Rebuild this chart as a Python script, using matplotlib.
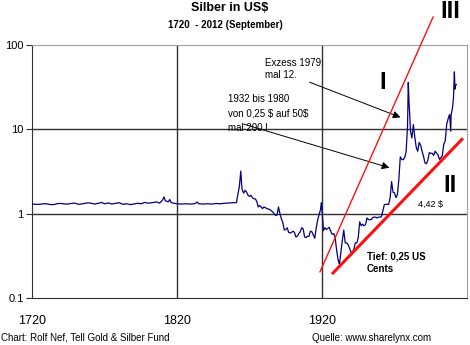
import matplotlib
matplotlib.use("Agg")
import matplotlib.pyplot as plt
import numpy as np

plt.rcParams['font.family'] = ['Liberation Sans', 'DejaVu Sans']
plt.rcParams['text.parse_math'] = False

# ---- data (silver price in US$) ----
years = [1720, 1723, 1725, 1728, 1730, 1733, 1735, 1738, 1740, 1743, 1745, 1748, 1750, 1752, 1755,
         1758, 1760, 1763, 1765, 1768, 1770, 1773, 1775, 1778, 1780, 1783, 1785, 1788, 1790, 1793,
         1795, 1798, 1800, 1803, 1806, 1808, 1810, 1811, 1812, 1814, 1815, 1816, 1818, 1820, 1823,
         1826, 1829, 1832, 1834, 1835, 1838, 1841, 1844, 1847, 1850, 1853, 1856, 1859, 1861, 1862,
         1863, 1864, 1864.5, 1865, 1866, 1867, 1868, 1869, 1870, 1871, 1872, 1873, 1874, 1875, 1876,
         1877, 1878, 1879, 1880, 1882, 1884, 1886, 1887, 1888, 1889, 1890, 1891, 1892, 1893, 1894,
         1895, 1896, 1897, 1898, 1899, 1900, 1901, 1902, 1903, 1904, 1905, 1906, 1907, 1908, 1909,
         1910, 1911, 1912, 1913, 1914, 1915, 1916, 1917, 1918, 1919, 1919.5, 1920, 1921, 1922, 1923,
         1924, 1925, 1926, 1927, 1928, 1929, 1930, 1931, 1932, 1933, 1934, 1935, 1936, 1937, 1938,
         1939, 1940, 1941, 1942, 1943, 1944, 1945, 1946, 1947, 1948, 1949, 1950, 1951, 1952, 1953,
         1954, 1955, 1956, 1957, 1958, 1959, 1960, 1961, 1962, 1963, 1964, 1965, 1966, 1967, 1968,
         1969, 1970, 1971, 1972, 1973, 1974, 1975, 1976, 1977, 1978, 1979, 1979.5, 1980, 1980.5, 1981,
         1982, 1983, 1984, 1985, 1986, 1987, 1988, 1989, 1990, 1991, 1992, 1993, 1994, 1995, 1996,
         1997, 1998, 1999, 2000, 2001, 2002, 2003, 2004, 2005, 2006, 2007, 2008, 2008.8, 2009, 2010,
         2010.7, 2011, 2011.3, 2011.7, 2012, 2012.7]
prices = [1.30, 1.29, 1.29, 1.31, 1.31, 1.28, 1.28, 1.32, 1.32, 1.30, 1.30, 1.33, 1.33, 1.29, 1.31,
          1.34, 1.34, 1.30, 1.32, 1.36, 1.31, 1.34, 1.30, 1.33, 1.35, 1.29, 1.31, 1.28, 1.30, 1.33,
          1.31, 1.36, 1.33, 1.35, 1.38, 1.33, 1.45, 1.58, 1.42, 1.38, 1.47, 1.35, 1.33, 1.31, 1.30,
          1.31, 1.30, 1.31, 1.37, 1.31, 1.30, 1.31, 1.30, 1.32, 1.31, 1.33, 1.34, 1.35, 1.35, 1.70,
          2.10, 3.20, 2.30, 1.90, 1.75, 1.90, 1.80, 1.65, 1.60, 1.65, 1.55, 1.50, 1.50, 1.40, 1.20,
          1.25, 1.20, 1.15, 1.20, 1.15, 1.12, 1.05, 1.00, 0.95, 0.97, 1.20, 1.00, 0.87, 0.78, 0.64,
          0.65, 0.68, 0.60, 0.59, 0.60, 0.62, 0.60, 0.53, 0.54, 0.58, 0.61, 0.68, 0.66, 0.53, 0.52,
          0.54, 0.54, 0.62, 0.61, 0.56, 0.51, 0.67, 0.84, 0.98, 1.12, 1.35, 1.10, 0.63, 0.68, 0.65,
          0.67, 0.69, 0.62, 0.57, 0.58, 0.53, 0.38, 0.29, 0.25, 0.35, 0.48, 0.64, 0.45, 0.45, 0.43,
          0.39, 0.35, 0.35, 0.38, 0.45, 0.45, 0.52, 0.80, 0.72, 0.75, 0.72, 0.74, 0.89, 0.85, 0.85,
          0.85, 0.90, 0.91, 0.91, 0.89, 0.91, 0.91, 0.92, 1.08, 1.28, 1.29, 1.29, 1.29, 1.55, 2.40,
          1.79, 1.77, 1.55, 1.68, 2.56, 4.71, 4.42, 4.35, 4.62, 5.40, 11.0, 36.0, 21.0, 15.0, 9.5,
          7.9, 11.4, 8.1, 6.1, 5.5, 7.0, 6.5, 5.5, 4.8, 4.0, 3.9, 4.3, 5.3, 5.2, 5.2,
          4.9, 5.5, 5.2, 5.0, 4.4, 4.6, 4.9, 6.7, 7.3, 11.5, 13.4, 15.0, 9.5, 14.7, 18.0,
          24.0, 35.0, 48.0, 30.0, 33.0, 34.0]

trend_I_years = [1918.6, 1996.6]      # thin red line (III)
trend_I_values = [0.204, 215.0]
trend_II_years = [1927.6, 2016.5]     # thick red line (II)
trend_II_values = [0.198, 7.6]

x_ticks = [1720, 1820, 1920]
y_ticks = [0.1, 1, 10, 100]
y_ticklabels = ["0.1", "1", "10", "100"]

W, H = 470, 345
fig = plt.figure(figsize=(W / 100, H / 100), dpi=100)
ax = fig.add_axes([32 / W, 1 - 298 / H, (467 - 32) / W, (298 - 45) / H])

ax.set_yscale('log')
ax.set_xlim(1720, 2020)
ax.set_ylim(0.1, 100)

ax.plot(years, prices, color='#000080', lw=0.9, zorder=3)
ax.plot(trend_I_years, trend_I_values, color='#ff1010', lw=1.0, clip_on=False, zorder=4)
ax.plot(trend_II_years, trend_II_values, color='#ff1010', lw=2.2, clip_on=False, zorder=4)

# grid
for v in [1, 10]:
    ax.axhline(v, color='#303030', lw=1.0, zorder=1)
for yr in [1820, 1920]:
    ax.axvline(yr, color='#303030', lw=1.0, zorder=1)

for s in ['top', 'right']:
    ax.spines[s].set_color('#a0a0a0')
for s in ['left', 'bottom']:
    ax.spines[s].set_color('#303030')
ax.set_yticks(y_ticks)
ax.set_yticklabels(y_ticklabels, fontsize=8)
ax.yaxis.set_minor_locator(matplotlib.ticker.NullLocator())
ax.tick_params(axis='y', length=4, width=0.8, color='#303030', pad=2)
ax.set_xticks(x_ticks)
ax.set_xticklabels([str(t) for t in x_ticks], fontsize=9)
ax.tick_params(axis='x', length=0, pad=12)

# annotations
ax.annotate("", xy=(1975.9, 13.5), xytext=(1909.7, 37.2),
            arrowprops=dict(arrowstyle='-|>', color='black', lw=0.7, mutation_scale=11))
ax.annotate("", xy=(1968.3, 3.43), xytext=(1864.1, 11.8),
            arrowprops=dict(arrowstyle='-|>', color='black', lw=0.7, mutation_scale=11))
ax.text(1880.7, 70, "Exzess 1979:\nmal 12.", fontsize=7, va='top', ha='left', linespacing=1.3)
ax.text(1855.2, 26, "1932 bis 1980\nvon 0,25 $ auf 50$\nmal 200 !", fontsize=7, va='top',
        ha='left', linespacing=1.55)
ax.text(1962.1, 36.3, "I", fontsize=17, fontweight='bold', ha='center', va='center')
ax.text(2008.3, 2.15, "II", fontsize=17, fontweight='bold', ha='center', va='center')
ax.text(1994.5, 1.28, "4,42 $", fontsize=6.5, ha='center', va='center')
ax.text(1951, 0.36, "Tief: 0,25 US\nCents", fontsize=7, fontweight='bold', ha='left', va='top',
        linespacing=1.4)

fig.text(450 / W, 1 - 12 / H, "III", fontsize=17, fontweight='bold', ha='center', va='center')
fig.text(230 / W, 1 - 8 / H, "Silber in US$", fontsize=9, fontweight='bold', ha='center', va='center')
fig.text(225 / W, 1 - 25 / H, "1720  - 2012 (September)", fontsize=7, fontweight='bold',
         ha='center', va='center')
fig.text(1 / W, 1 - 338 / H, "Chart: Rolf Nef, Tell Gold & Silber Fund", fontsize=7,
         ha='left', va='center')
fig.text(312 / W, 1 - 338 / H, "Quelle: www.sharelynx.com", fontsize=7, ha='left', va='center')

fig.savefig("out.png", dpi=100)
